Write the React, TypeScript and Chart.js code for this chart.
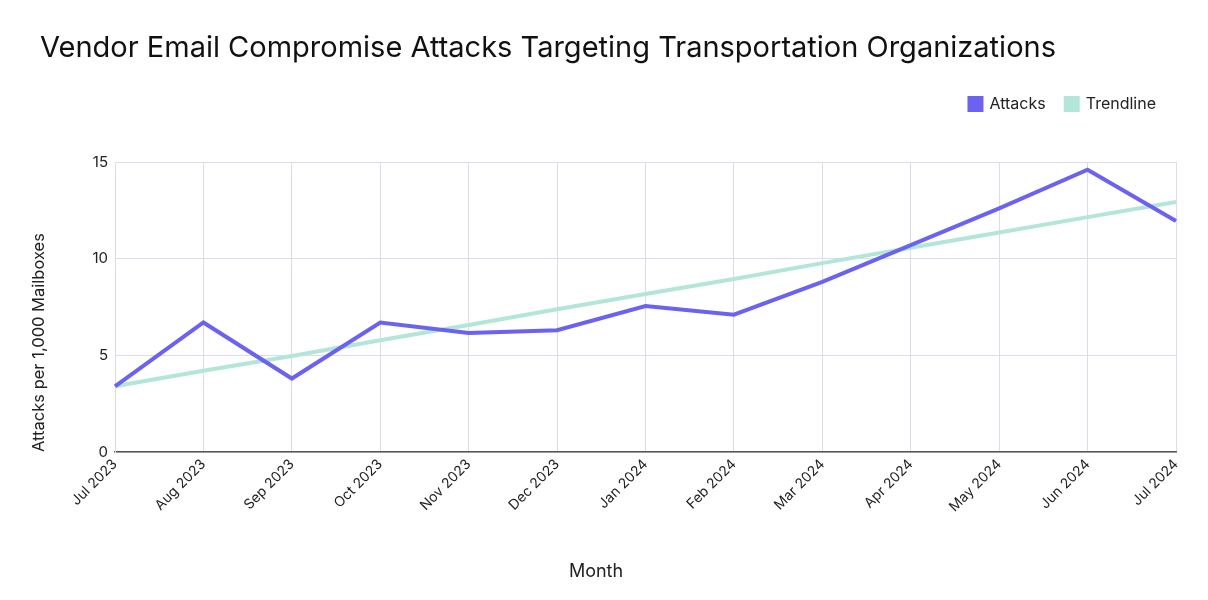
import { useEffect, useRef } from 'react'
import { Chart, ChartConfiguration, registerables } from 'chart.js'

Chart.register(...registerables)

const months = [
  'Jul 2023', 'Aug 2023', 'Sep 2023', 'Oct 2023', 'Nov 2023', 'Dec 2023',
  'Jan 2024', 'Feb 2024', 'Mar 2024', 'Apr 2024', 'May 2024', 'Jun 2024', 'Jul 2024',
]
const attacks = [3.4, 6.7, 3.8, 6.7, 6.15, 6.3, 7.55, 7.1, 8.8, 10.7, 12.6, 14.6, 11.95]
const trendline = [3.4, 4.2, 4.97, 5.78, 6.57, 7.38, 8.17, 8.95, 9.77, 10.56, 11.35, 12.15, 12.93]
const yTicks = [0, 5, 10, 15]

const FONT = 'Inter, "Noto Sans", sans-serif'
const TOP_PAD = 76
const CHART_TOP = 162

// make the legend box taller so the plot starts lower
const legendSpacer = {
  id: 'legendSpacer',
  beforeInit(chart: any) {
    const origFit = chart.legend.fit
    chart.legend.fit = function () {
      origFit.bind(this)()
      this.height = CHART_TOP - TOP_PAD
    }
  },
}

export default function App() {
  const canvasRef = useRef<HTMLCanvasElement>(null)
  const chartRef = useRef<Chart | null>(null)

  useEffect(() => {
    document.body.style.margin = '0'
    if (!canvasRef.current) return
    const ctx = canvasRef.current.getContext('2d')
    if (!ctx) return

    const config: ChartConfiguration = {
      type: 'line',
      data: {
        labels: months,
        datasets: [
          {
            label: 'Attacks',
            data: attacks,
            borderColor: '#6c62f1',
            backgroundColor: '#6c62f1',
            borderWidth: 4,
            pointRadius: 0,
            tension: 0,
            order: 1,
          },
          {
            label: 'Trendline',
            data: trendline,
            borderColor: '#b2e6d8',
            backgroundColor: '#b2e6d8',
            borderWidth: 4,
            pointRadius: 0,
            tension: 0,
            order: 2,
          },
        ],
      },
      options: {
        responsive: true,
        maintainAspectRatio: false,
        animation: false,
        layout: { padding: { left: 0, right: 32, top: TOP_PAD, bottom: 0 } },
        plugins: {
          title: { display: false },
          legend: {
            position: 'top',
            align: 'end',
            labels: {
              boxWidth: 12,
              boxHeight: 12,
              color: '#222222',
              font: { family: FONT, size: 16 },
              padding: 20,
            },
          },
          tooltip: { enabled: false },
        },
        scales: {
          x: {
            grid: { color: '#dedcea', drawTicks: false },
            border: { color: '#555555', width: 1.5 },
            ticks: {
              color: '#222222',
              font: { family: FONT, size: 14 },
              maxRotation: 45,
              minRotation: 45,
              padding: 4,
            },
            afterFit: (scale: any) => {
              scale.height = 600 - 452
            },
          },
          y: {
            min: 0,
            max: 15,
            afterBuildTicks: (scale: any) => {
              scale.ticks = yTicks.map(v => ({ value: v }))
            },
            grid: { color: '#dedcea', drawTicks: false },
            border: { color: '#dedcea' },
            ticks: {
              color: '#222222',
              font: { family: FONT, size: 15 },
              padding: 7,
            },
            title: {
              display: true,
              text: 'Attacks per 1,000 Mailboxes',
              align: 'start',
              color: '#222222',
              font: { family: FONT, size: 16.5 },
              padding: { top: 29, bottom: 0 },
            },
            afterFit: (scale: any) => {
              scale.width = 115
            },
          },
        },
      },
      plugins: [legendSpacer],
    }

    chartRef.current = new Chart(ctx, config)

    return () => {
      if (chartRef.current) {
        chartRef.current.destroy()
        chartRef.current = null
      }
    }
  }, [])

  return (
    <div style={{ position: 'relative', width: 1208, height: 600, background: '#ffffff', fontFamily: FONT, color: '#111111' }}>
      <canvas ref={canvasRef} />
      <div style={{ position: 'absolute', left: 40, top: 29, fontSize: 29, lineHeight: '36px', whiteSpace: 'nowrap' }}>
        Vendor Email Compromise Attacks Targeting Transportation Organizations
      </div>
      <div style={{ position: 'absolute', left: 496, width: 200, top: 559, fontSize: 18, lineHeight: '24px', textAlign: 'center', color: '#222222' }}>
        Month
      </div>
    </div>
  )
}
